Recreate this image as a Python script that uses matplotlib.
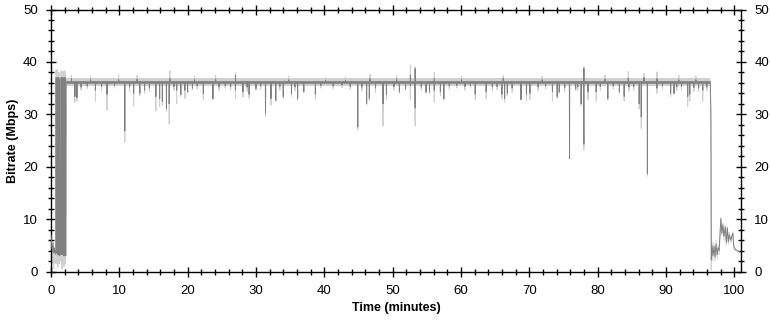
import numpy as np
import matplotlib
matplotlib.use("Agg")
import matplotlib.pyplot as plt
from matplotlib.ticker import MultipleLocator

plt.rcParams['font.family'] = ['Liberation Sans', 'DejaVu Sans']

# ---------------- data ----------------
BASE = 36.1          # steady bitrate (Mbps) of the dark (average) trace
BAND_LO, BAND_HI = 35.4, 36.9   # spread of the light (peak) trace on the plateau
PLATEAU_START, PLATEAU_END = 2.25, 96.5

# start-up section (minutes, dark Mbps, light Mbps)
start_t = [0.00, 0.10, 0.20, 0.30, 0.40, 0.50, 0.60, 0.70,
           0.75, 0.80, 0.85, 0.90, 0.95, 1.00, 1.05, 1.10, 1.15, 1.20, 1.25, 1.30,
           1.34, 1.44,
           1.48, 1.52, 1.57, 1.62, 1.67, 1.72, 1.76, 1.79,
           1.82, 1.91,
           1.94, 1.99, 2.04, 2.09, 2.13, 2.16, 2.20]
start_dark = [7.0, 5.0, 4.0, 5.5, 3.5, 4.5, 3.2, 4.0,
              37.0, 3.5, 36.5, 4.0, 37.0, 3.2, 36.0, 3.5, 37.0, 3.0, 36.5, 3.5,
              3.2, 3.6,
              37.0, 3.5, 37.0, 3.2, 36.5, 3.5, 37.0, 3.5,
              3.0, 3.4,
              37.0, 3.0, 37.0, 3.0, 36.5, 3.0, 36.0]
start_light = [7.5, 3.0, 1.5, 4.5, 0.5, 3.0, 2.0, 1.5,
               38.5, 1.5, 38.0, 2.5, 38.5, 0.8, 37.5, 2.0, 38.0, 1.5, 37.8, 2.0,
               2.5, 2.0,
               38.3, 1.5, 38.0, 0.5, 37.5, 2.0, 38.2, 1.8,
               1.0, 1.5,
               38.3, 1.0, 38.2, 1.5, 37.5, 10.9, 37.0]

# dips on the plateau: time, dark minimum, light minimum
dip_t = [3.5, 3.8, 6.5, 8.2, 10.8, 12.1, 13.0, 13.7, 15.35, 15.9, 16.3, 16.9,
         17.3, 18.4, 19.0, 19.6, 20.0, 20.7, 22.3, 23.7, 27.0, 28.1, 29.0, 30.0,
         31.4, 32.2, 32.9, 34.0, 35.2, 36.1, 37.0, 38.7, 44.9, 46.2, 46.6, 48.6,
         49.1, 51.0, 51.9, 52.6, 53.3, 54.9, 55.4, 56.1, 57.0, 57.5, 62.1, 63.7,
         66.0, 66.4, 66.8, 68.8, 69.6, 70.1, 73.4, 74.1, 74.4, 75.9, 76.8, 77.6,
         78.0, 78.6, 79.8, 81.5, 83.2, 83.9, 86.1, 86.4, 87.3, 88.7, 90.7, 91.2,
         93.2, 93.5, 94.8, 95.4,
         # small dips
         4.4, 5.3, 7.4, 9.3, 11.5, 14.4, 18.0, 21.4, 24.6, 25.5, 26.3, 28.7,
         30.7, 33.5, 35.7, 39.5, 41.3, 42.6, 43.8, 45.5, 47.5, 50.2, 54.2, 58.3,
         59.4, 60.6, 61.4, 64.6, 65.3, 67.5, 71.3, 72.4, 75.2, 77.1, 80.4, 82.3,
         84.6, 85.3, 89.5, 91.6, 92.3, 94.1, 96.0]
dip_dark = [33.4, 33.2, 34.6, 33.8, 26.8, 34.0, 34.0, 34.6, 33.4, 33.0, 32.4, 31.1,
            32.0, 34.6, 33.8, 34.6, 34.3, 35.0, 33.9, 33.0, 34.6, 34.3, 33.8, 34.9,
            30.2, 33.0, 32.7, 33.4, 34.0, 33.0, 34.3, 33.8, 27.6, 32.1, 33.0, 32.0,
            33.8, 34.3, 34.9, 35.5, 31.2, 34.3, 34.3, 34.6, 34.3, 33.0, 33.8, 34.3,
            33.8, 33.0, 34.0, 32.8, 33.8, 34.0, 34.3, 33.4, 34.3, 21.5, 34.9, 32.0,
            24.3, 34.3, 34.3, 33.0, 34.3, 33.4, 32.0, 29.5, 18.7, 35.0, 34.0, 34.0,
            33.4, 33.8, 35.0, 34.6,
            35.2, 35.4, 35.3, 35.5, 35.2, 35.0, 35.3, 35.4, 35.2, 35.5, 35.3, 35.2,
            35.4, 35.3, 35.2, 35.5, 35.4, 35.6, 35.3, 35.2, 35.0, 35.3, 35.2, 35.4,
            35.5, 35.3, 35.5, 35.2, 35.3, 35.0, 35.2, 35.4, 35.1, 35.2, 35.3, 35.4,
            35.2, 35.3, 35.4, 35.2, 35.3, 35.1, 35.2]
dip_light = [32.3, 32.6, 32.5, 30.8, 24.7, 31.6, 33.5, 34.0, 30.6, 31.5, 31.7, 30.5,
             28.1, 32.0, 33.4, 33.0, 34.0, 34.6, 32.7, 32.7, 33.0, 33.3, 33.0, 34.6,
             29.5, 31.8, 32.4, 33.0, 33.4, 32.7, 34.2, 32.8, 27.0, 31.8, 32.7, 27.8,
             32.8, 34.0, 34.6, 32.8, 27.8, 34.0, 34.0, 32.3, 33.5, 32.7, 32.8, 33.0,
             33.0, 32.3, 33.5, 32.8, 32.5, 32.8, 32.5, 33.0, 34.0, 21.5, 34.5, 31.7,
             23.2, 32.8, 32.5, 32.7, 34.0, 32.5, 31.0, 27.3, 18.2, 34.0, 33.4, 33.8,
             31.5, 32.5, 34.3, 32.5,
             34.6, 34.9, 34.5, 35.0, 34.4, 34.3, 34.6, 34.8, 34.5, 35.0, 34.7, 34.4,
             34.8, 34.6, 34.5, 35.0, 34.9, 35.1, 34.7, 34.4, 34.2, 34.6, 34.5, 34.8,
             35.0, 34.6, 35.0, 34.4, 34.7, 34.2, 34.5, 34.8, 34.3, 34.5, 34.6, 34.8,
             34.4, 34.6, 34.8, 34.5, 34.6, 34.3, 34.5]

# upward peaks: time, dark maximum, light maximum
peak_t = [3.0, 9.9, 17.4, 27.0, 40.2, 46.7, 52.6, 53.3, 56.1, 66.2, 78.0, 84.5,
          86.8, 88.7, 5.8, 12.6, 21.0, 24.1, 34.8, 43.1, 50.6, 60.1, 71.9, 81.1,
          91.9, 94.4]
peak_dark = [36.8, 36.6, 36.8, 37.5, 36.5, 36.8, 37.5, 38.7, 36.8, 36.9, 38.8, 36.9,
             37.0, 36.8, 36.6, 36.7, 36.6, 36.7, 36.6, 36.5, 36.7, 36.6, 36.6, 36.7,
             36.6, 36.6]
peak_light = [37.5, 37.6, 38.3, 38.0, 37.0, 37.6, 39.4, 39.1, 38.0, 37.4, 39.1, 38.2,
              37.8, 38.1, 37.3, 37.4, 37.3, 37.5, 37.3, 37.2, 37.4, 37.3, 37.3, 37.5,
              37.4, 37.3]

# run-out section after the drop
end_t = [96.5, 96.6, 96.65, 96.75, 96.9, 97.05, 97.2, 97.35, 97.5, 97.65, 97.8,
         98.05, 98.2, 98.35, 98.5, 98.7, 98.85, 99.0, 99.15, 99.3, 99.5, 99.8, 99.95,
         100.2, 100.5, 100.8, 101.0]
end_dark = [36.0, 30.2, 2.2, 5.0, 3.0, 4.8, 2.8, 5.2, 3.2, 4.5, 4.0,
            10.1, 7.3, 8.9, 6.7, 8.5, 5.6, 8.3, 5.7, 7.0, 6.0, 7.3, 4.8,
            4.2, 4.0, 3.7, 3.7]
end_light = [36.5, 23.6, 0.3, 5.8, 2.0, 5.5, 2.0, 6.0, 2.5, 5.0, 3.2,
             10.3, 6.8, 9.2, 6.0, 8.8, 5.0, 8.6, 5.2, 7.5, 5.5, 7.6, 4.3,
             4.0, 3.8, 3.6, 3.6]

# ---------------- assemble traces ----------------
def build(base, dips_v, peaks_v, start_v, end_v):
    pts = list(zip(start_t, start_v))
    pts += [(PLATEAU_START, base), (PLATEAU_END - 0.05, base)]
    for t, v in zip(dip_t, dips_v):
        pts += [(t - 0.02, base), (t, v), (t + 0.02, base)]
    for t, v in zip(peak_t, peaks_v):
        pts += [(t - 0.02, base), (t, v), (t + 0.02, base)]
    pts += list(zip(end_t, end_v))
    pts.sort(key=lambda p: p[0])
    return np.array([p[0] for p in pts]), np.array([p[1] for p in pts])

lt, lv = build(BASE, dip_light, peak_light, start_light, end_light)
dt, dv = build(BASE, dip_dark, peak_dark, start_dark, end_dark)

# ---------------- figure ----------------
fig = plt.figure(figsize=(7.7, 3.2), dpi=100)
ax = fig.add_axes([51 / 770, 1 - 271.5 / 320, 690 / 770, 262 / 320])

light_c = '#d0d0d0'
dark_c = '#808080'
ax.fill_between([PLATEAU_START, PLATEAU_END], [BAND_LO] * 2, [BAND_HI] * 2,
                color=light_c, lw=0, zorder=1)
ax.plot(lt, lv, color=light_c, lw=0.7, zorder=2)
ax.plot(dt, dv, color=dark_c, lw=0.7, zorder=3)
ax.plot([PLATEAU_START, PLATEAU_END - 0.05], [BASE, BASE], color=dark_c, lw=1.9,
        zorder=3, solid_capstyle='butt')

ax.set_xlim(0, 101)
ax.set_ylim(0, 50)
ax.xaxis.set_major_locator(MultipleLocator(10))
ax.xaxis.set_minor_locator(MultipleLocator(2))
ax.yaxis.set_major_locator(MultipleLocator(10))
ax.yaxis.set_minor_locator(MultipleLocator(2))
ax.tick_params(which='both', direction='inout', top=True, right=True,
               labelright=True, width=1, colors='black', labelsize=9.5)
ax.tick_params(which='major', length=7, pad=6)
ax.tick_params(which='minor', length=4)
for s in ax.spines.values():
    s.set_linewidth(1)
    s.set_color('black')

ax.set_xlabel('Time (minutes)', fontsize=9, fontweight='bold')
ax.set_ylabel('Bitrate (Mbps)', fontsize=9, fontweight='bold')
# place the axis titles where the reference has them (axes-fraction coordinates)
ax.xaxis.set_label_coords(0.5, -(302 - 271.5) / 262)
ax.yaxis.set_label_coords(-(51 - 19) / 690, 0.5)

fig.savefig('out.png', dpi=100)
